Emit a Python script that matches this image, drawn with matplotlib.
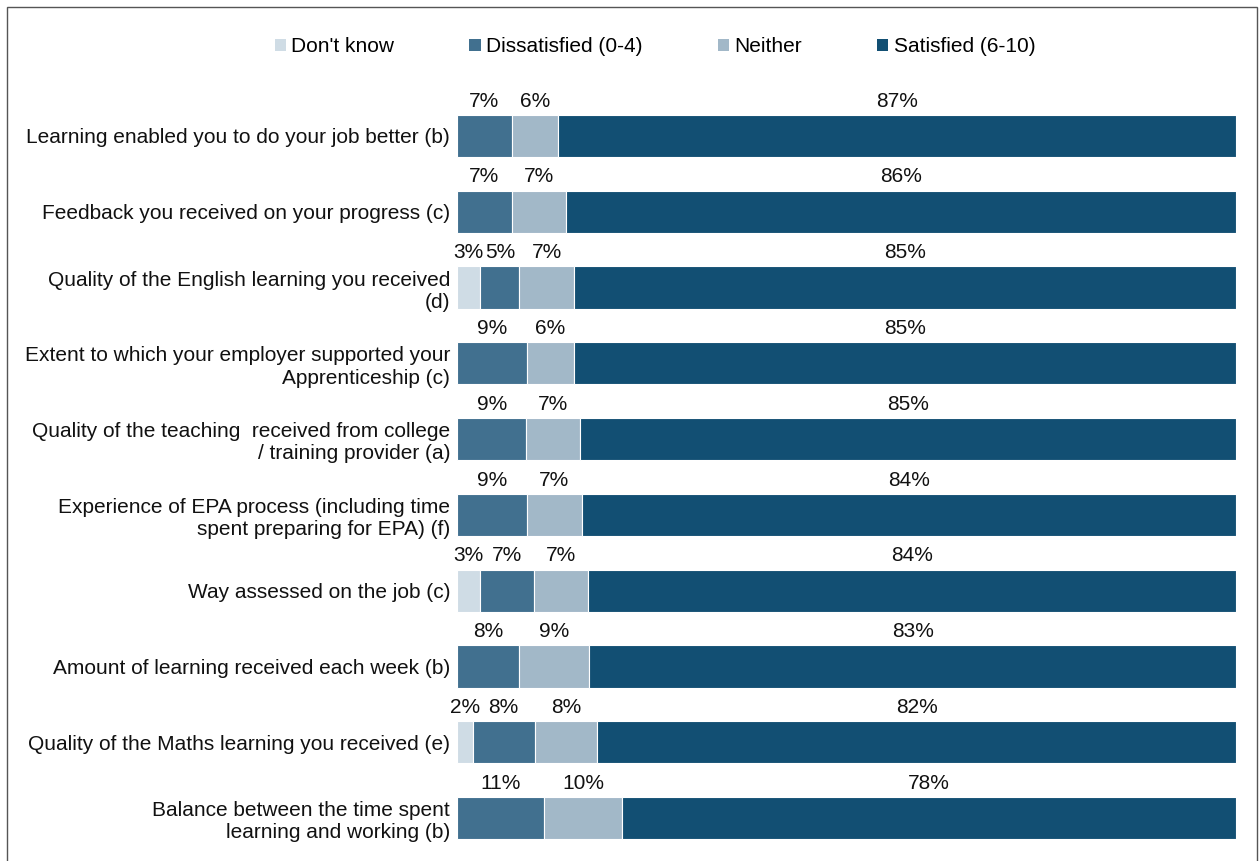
import matplotlib
matplotlib.use("Agg")
import matplotlib.pyplot as plt
from matplotlib.patches import Patch, Rectangle
import numpy as np

plt.rcParams['font.family'] = ['Liberation Sans', 'DejaVu Sans']

categories = [
    "Learning enabled you to do your job better (b)",
    "Feedback you received on your progress (c)",
    "Quality of the English learning you received\n(d)",
    "Extent to which your employer supported your\nApprenticeship (c)",
    "Quality of the teaching  received from college\n/ training provider (a)",
    "Experience of EPA process (including time\nspent preparing for EPA) (f)",
    "Way assessed on the job (c)",
    "Amount of learning received each week (b)",
    "Quality of the Maths learning you received (e)",
    "Balance between the time spent\nlearning and working (b)",
]
series_names = ["Don't know", "Dissatisfied (0-4)", "Neither", "Satisfied (6-10)"]
dont_know =    [0, 0, 3, 0, 0, 0, 3, 0, 2, 0]
dissatisfied = [7, 7, 5, 9, 9, 9, 7, 8, 8, 11]
neither =      [6, 7, 7, 6, 7, 7, 7, 9, 8, 10]
satisfied =    [87, 86, 85, 85, 85, 84, 84, 83, 82, 78]
colors = ["#cfdce5", "#41708f", "#a2b8c8", "#124f73"]

FS = 15

values = np.array([dont_know, dissatisfied, neither, satisfied], dtype=float)
totals = values.sum(axis=0)
shares = values / totals * 100  # 100% stacked

fig = plt.figure(figsize=(12.6, 8.61), dpi=100)
ax = fig.add_axes([457 / 1260, 1 - 856 / 861, (1236 - 457) / 1260, (856 - 98) / 861])

y = np.arange(len(categories))
bar_h = 0.555
left = np.zeros(len(categories))
for i, name in enumerate(series_names):
    ax.barh(y, shares[i], left=left, height=bar_h, color=colors[i],
            edgecolor="white", linewidth=0.8, label=name)
    for j in range(len(categories)):
        v = values[i, j]
        if v > 0:
            ax.annotate(f"{int(v)}%", xy=(left[j] + shares[i, j] / 2, y[j] - bar_h / 2),
                        xytext=(0, 3), textcoords="offset points",
                        ha="center", va="bottom", fontsize=FS, color="#111111")
    left += shares[i]

ax.set_xlim(0, 100)
ax.set_ylim(len(categories) - 0.5, -0.5)
ax.set_yticks(y)
ax.set_yticklabels(categories, fontsize=FS, color="#111111", linespacing=1.22)
ax.tick_params(axis="y", length=0, pad=5)
ax.set_xticks([])
for s in ax.spines.values():
    s.set_visible(False)

handles = [Patch(facecolor=c, edgecolor="none") for c in colors]
fig.legend(handles, series_names, loc="center", bbox_to_anchor=(655 / 1260, 1 - 47 / 861),
           ncol=4, frameon=False, fontsize=FS, handlelength=0.55, handleheight=0.55,
           handletextpad=0.25, columnspacing=3.6)

# outer frame
fig.patches.append(Rectangle((7 / 1260, -0.05), (1257 - 7) / 1260, 1.05 - 7 / 861,
                             transform=fig.transFigure, fill=False,
                             edgecolor="#555555", linewidth=1.0))

fig.savefig("out.png", dpi=100)
